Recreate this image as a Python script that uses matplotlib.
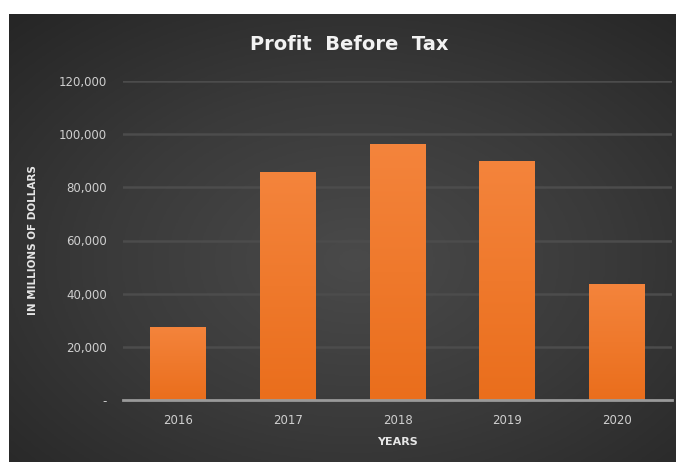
import numpy as np
import matplotlib
matplotlib.use("Agg")
import matplotlib.pyplot as plt
from matplotlib.colors import LinearSegmentedColormap
import matplotlib.patheffects as pe

years = ["2016", "2017", "2018", "2019", "2020"]
profit = [27500, 85600, 96300, 89800, 43600]
y_ticks = [0, 20000, 40000, 60000, 80000, 100000, 120000]
y_tick_labels = ["-", "20,000", "40,000", "60,000", "80,000", "100,000", "120,000"]

W, H = 676, 462
fig = plt.figure(figsize=(W / 100, H / 100), dpi=100)
fig.patch.set_facecolor("white")

# dark panel with a soft radial glow
bg = fig.add_axes([9 / W, 0, 1 - 9 / W, 1 - 14 / H])
bg.set_axis_off()
yy, xx = np.mgrid[0:1:300j, 0:1:450j]
r = np.sqrt(((xx - 0.52) / 0.75) ** 2 + ((yy - 0.45) / 0.75) ** 2)
r = np.clip(r, 0, 1)
bg_cmap = LinearSegmentedColormap.from_list("bg", ["#4a4a4a", "#3a3a3a", "#262626"])
bg.imshow(r, cmap=bg_cmap, aspect="auto", extent=[0, 1, 0, 1], origin="lower",
          vmin=0, vmax=1, interpolation="bilinear")
bg.set_xlim(0, 1)
bg.set_ylim(0, 1)

ax = fig.add_axes([123 / W, 1 - 400 / H, (672 - 123) / W, (400 - 81) / H])
ax.patch.set_alpha(0)
ax.set_xlim(-0.5, len(years) - 0.5)
ax.set_ylim(0, 120000)

for v in y_ticks[1:]:
    ax.axhline(v, color="#4c4c4c", lw=1.8, zorder=1)

x = np.arange(len(years))
bars = ax.bar(x, profit, width=0.51, color="#f07a2c", zorder=3,
              path_effects=[pe.SimplePatchShadow(offset=(0, 0), shadow_rgbFace="#1a1410",
                                                 alpha=0.6), pe.Normal()])

# vertical orange gradient inside each bar
bar_cmap = LinearSegmentedColormap.from_list("bar", ["#ea6e1c", "#f4843c"])
grad = np.linspace(0, 1, 256).reshape(-1, 1)
for b in bars:
    x0, w, h = b.get_x(), b.get_width(), b.get_height()
    im = ax.imshow(grad, cmap=bar_cmap, aspect="auto", origin="lower",
                   extent=[x0, x0 + w, 0, h], zorder=4, interpolation="bilinear")
    im.set_clip_path(b)
ax.set_xlim(-0.5, len(years) - 0.5)
ax.set_ylim(0, 120000)

ax.axhline(0, color="#9a9a9a", lw=2, zorder=5, clip_on=False)

for s in ax.spines.values():
    s.set_visible(False)

ax.set_xticks(x)
ax.set_xticklabels(years)
ax.set_yticks(y_ticks)
ax.set_yticklabels(y_tick_labels)
ax.tick_params(axis="both", length=0, colors="#cfcfcf", labelsize=8.5)
ax.tick_params(axis="x", pad=10)
ax.tick_params(axis="y", pad=11.5)
for lbl in ax.get_xticklabels() + ax.get_yticklabels():
    lbl.set_fontfamily("DejaVu Sans")

ax.set_xlabel("YEARS", color="#e6e6e6", fontsize=8, fontweight="bold",
              fontfamily="DejaVu Sans")
ax.xaxis.set_label_coords(0.5, -(442 - 400) / (400 - 81))
ax.xaxis.label.set_va("center")
ax.set_ylabel("IN MILLIONS OF DOLLARS", color="#e6e6e6", fontsize=7.5,
              fontweight="bold", fontfamily="DejaVu Sans")
ax.yaxis.set_label_coords(-(123 - 33) / (672 - 123), 0.5)
ax.yaxis.label.set_va("center")

fig.text(349 / W, 1 - 45 / H, "Profit  Before  Tax", color="#f2f2f2",
         fontsize=14, fontweight="bold", fontfamily="DejaVu Sans",
         ha="center", va="center")

fig.savefig("out.png", dpi=100, facecolor=fig.get_facecolor())
